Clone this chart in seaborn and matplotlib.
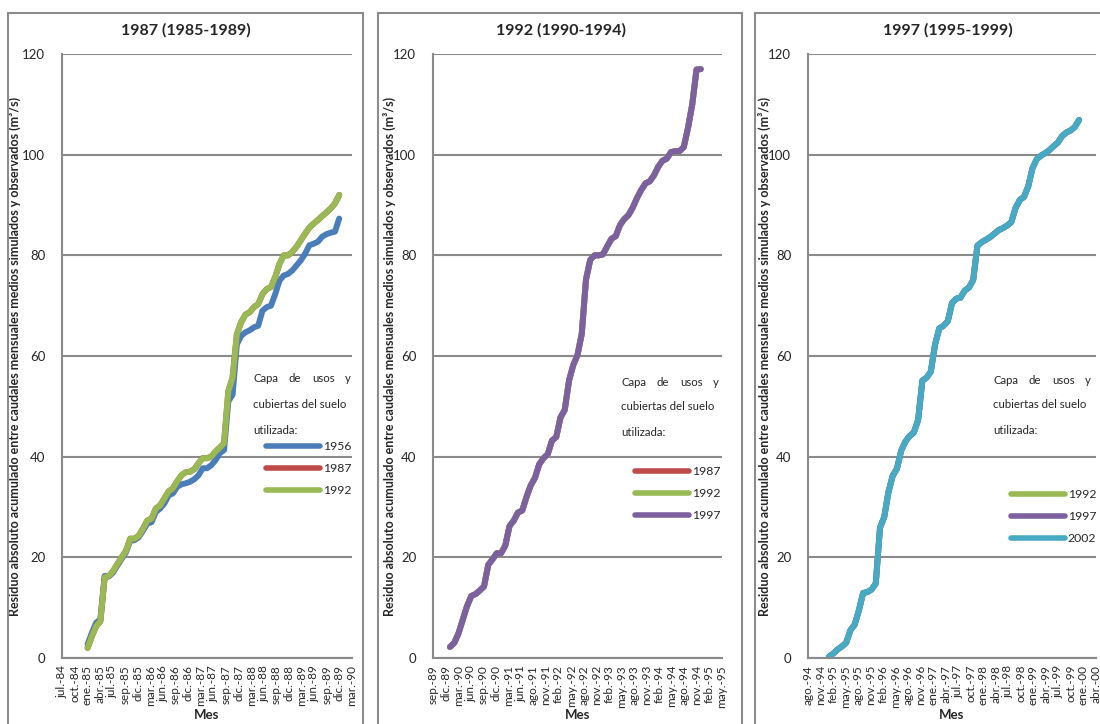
import numpy as np
import pandas as pd
import matplotlib
matplotlib.use("Agg")
import matplotlib.pyplot as plt
import seaborn as sns
from matplotlib.lines import Line2D
from matplotlib.patches import Rectangle

# ---------------- data ----------------
# Panel 1: 1987 (1985-1989), monthly ene-85 .. dic-89
p1_1956 = [2.7, 5.0, 7.0, 7.7, 16.3, 16.2, 17.0, 18.4, 19.7, 21.0, 23.3, 23.4, 24.0, 25.3, 26.7,
           27.0, 29.0, 29.7, 30.7, 32.3, 32.7, 34.0, 34.5, 34.7, 35.0, 35.5, 36.3, 37.7, 37.7, 38.3,
           39.3, 40.7, 41.3, 51.0, 52.3, 62.3, 64.0, 64.7, 65.1, 65.7, 66.0, 69.0, 69.7, 70.0, 72.3,
           75.0, 76.0, 76.3, 77.0, 78.0, 79.0, 80.3, 82.0, 82.3, 82.7, 83.7, 84.2, 84.5, 84.7, 87.3]
p1_1992 = [2.0, 4.3, 6.3, 7.3, 16.0, 16.3, 17.3, 18.7, 20.0, 21.3, 23.7, 23.7, 24.3, 25.7, 27.3,
           27.7, 29.7, 30.3, 31.7, 33.1, 33.7, 35.1, 36.3, 36.9, 37.0, 37.5, 38.7, 39.7, 39.7, 40.0,
           41.0, 41.8, 42.7, 53.0, 55.7, 64.3, 66.7, 68.2, 68.7, 69.7, 70.3, 72.3, 73.3, 73.7, 75.7,
           78.3, 80.0, 80.0, 80.7, 81.7, 83.0, 84.3, 85.5, 86.3, 87.0, 87.8, 88.5, 89.3, 90.3, 92.0]
p1_1987 = list(p1_1992)

# Panel 2: 1992 (1990-1994), monthly ene-90 .. dic-94
p2_1997 = [2.2, 3.0, 4.9, 7.6, 10.3, 12.3, 12.7, 13.4, 14.2, 18.5, 19.6, 20.8, 20.8, 22.3, 26.2,
           27.3, 28.9, 29.3, 32.0, 34.3, 35.8, 38.5, 39.7, 40.5, 43.2, 43.9, 47.8, 49.3, 55.1, 58.2,
           60.2, 64.4, 75.2, 79.1, 80.0, 80.0, 80.2, 81.8, 83.3, 83.8, 86.0, 87.2, 88.0, 89.5, 91.4,
           93.0, 94.3, 94.7, 95.9, 97.6, 98.8, 99.2, 100.5, 100.7, 100.7, 101.5, 105.3, 110.0, 116.9, 117.0]
p2_1987 = list(p2_1997)
p2_1992 = list(p2_1997)

# Panel 3: 1997 (1995-1999), monthly ene-95 .. dic-99
p3_2002 = [0.3, 0.9, 1.7, 2.3, 3.0, 5.5, 6.6, 9.4, 12.9, 13.1, 13.6, 14.8, 25.9, 28.0, 33.0,
           36.2, 37.6, 41.2, 43.0, 44.1, 44.8, 47.3, 55.1, 55.7, 56.9, 62.3, 65.5, 66.0, 66.9, 70.5,
           71.4, 71.6, 73.0, 73.6, 75.1, 81.9, 82.6, 83.1, 83.6, 84.3, 85.0, 85.4, 85.9, 86.6, 89.4,
           91.0, 91.6, 93.7, 97.3, 99.1, 99.8, 100.3, 100.9, 101.7, 102.4, 103.7, 104.4, 104.8, 105.5, 106.9]
p3_1992 = list(p3_2002)
p3_1997 = list(p3_2002)

ticks1 = ["jul.-84", "oct.-84", "ene.-85", "abr.-85", "jul.-85", "sep.-85", "dic.-85", "mar.-86",
          "jun.-86", "sep.-86", "dic.-86", "mar.-87", "jun.-87", "sep.-87", "dic.-87", "mar.-88",
          "jun.-88", "sep.-88", "dic.-88", "mar.-89", "jun.-89", "sep.-89", "dic.-89", "mar.-90"]
ticks2 = ["sep.-89", "dic.-89", "mar.-90", "jun.-90", "sep.-90", "dic.-90", "mar.-91", "jun.-91",
          "ago.-91", "nov.-91", "feb.-92", "may.-92", "ago.-92", "nov.-92", "feb.-93", "may.-93",
          "ago.-93", "nov.-93", "feb.-94", "may.-94", "ago.-94", "nov.-94", "feb.-95", "may.-95"]
ticks3 = ["ago.-94", "nov.-94", "feb.-95", "may.-95", "ago.-95", "nov.-95", "feb.-96", "may.-96",
          "ago.-96", "nov.-96", "ene.-97", "abr.-97", "jul.-97", "oct.-97", "ene.-98", "abr.-98",
          "jul.-98", "oct.-98", "ene.-99", "abr.-99", "jul.-99", "oct.-99", "ene.-00", "abr.-00"]

titles = ["1987 (1985-1989)", "1992 (1990-1994)", "1997 (1995-1999)"]
ylabel = "Residuo absoluto acumulado entre caudales mensuales medios simulados y observados (m³/s)"
xlabel = "Mes"
legend_title = ["Capa de usos y", "cubiertas del suelo", "utilizada:"]

colors = {"1956": "#4A7EBB", "1987": "#BE4B48", "1992": "#98B954",
          "1997": "#7D60A0", "2002": "#46AAC5"}

# ---------------- layout ----------------
sns.set_style("white")
plt.rcParams['font.family'] = ['Lato', 'DejaVu Sans']

W, H = 1100, 724
fig = plt.figure(figsize=(11, 7.24), dpi=100)
renderer = fig.canvas.get_renderer()


def fx(px):
    return px / W


def fy(py):
    return 1 - py / H


GRID = "#8A8A8A"
LEG_FS = 8.2

panels = [
    dict(series={"1956": p1_1956, "1987": p1_1987, "1992": p1_1992}, ticks=ticks1,
         xlim=(-6, 62), ax=(62, 352), border=(8, 363), title_x=186, ylab_x=21,
         leg_text_x=253, leg_text_w=98, leg_text_y=(379, 405, 430),
         leg_x=266, leg_y=441),
    dict(series={"1987": p2_1987, "1992": p2_1992, "1997": p2_1997}, ticks=ticks2,
         xlim=(-4, 64), ax=(433, 722), border=(378, 742), title_x=561, ylab_x=396,
         leg_text_x=621, leg_text_w=98, leg_text_y=(382, 407, 432),
         leg_x=635, leg_y=466),
    dict(series={"1992": p3_1992, "1997": p3_1997, "2002": p3_2002}, ticks=ticks3,
         xlim=(-5, 63), ax=(808, 1096), border=(755, 1140), title_x=948, ylab_x=771,
         leg_text_x=993, leg_text_w=98, leg_text_y=(381, 405, 430),
         leg_x=1011, leg_y=489),
]

AX_TOP, AX_BOT = 54, 658

for idx, p in enumerate(panels):
    # panel frame
    b0, b1 = p["border"]
    fig.patches.append(Rectangle((fx(b0), fy(740)), fx(b1 - b0), (740 - 13) / H,
                                 transform=fig.transFigure, fill=False,
                                 edgecolor="#8C8C8C", linewidth=1.5, zorder=0))
    a0, a1 = p["ax"]
    ax = fig.add_axes([fx(a0), fy(AX_BOT), fx(a1 - a0), (AX_BOT - AX_TOP) / H])

    rows = []
    for name, vals in p["series"].items():
        for i, v in enumerate(vals):
            rows.append({"mes": i, "valor": v, "capa": name})
    df = pd.DataFrame(rows)
    order = list(p["series"].keys())
    sns.lineplot(data=df, x="mes", y="valor", hue="capa", hue_order=order,
                 palette=[colors[k] for k in order], linewidth=4.3, legend=False,
                 ax=ax, solid_capstyle="round", solid_joinstyle="round")

    ax.set_xlim(*p["xlim"])
    ax.set_ylim(0, 120)
    ax.set_yticks([0, 20, 40, 60, 80, 100, 120])
    ax.set_yticklabels(["0", "20", "40", "60", "80", "100", "120"], fontsize=9.5)
    ax.set_xticks(np.linspace(p["xlim"][0], p["xlim"][1], len(p["ticks"])))
    ax.set_xticklabels(p["ticks"], rotation=90, fontsize=8.5)
    ax.tick_params(axis="both", length=0)
    ax.tick_params(axis="y", pad=12)
    ax.tick_params(axis="x", pad=5)
    ax.yaxis.grid(True, color=GRID, linewidth=1.5)
    ax.xaxis.grid(False)
    ax.set_axisbelow(True)
    for s in ["top", "right"]:
        ax.spines[s].set_visible(False)
    for s in ["left", "bottom"]:
        ax.spines[s].set_color(GRID)
        ax.spines[s].set_linewidth(1.5)

    ax.set_xlabel(xlabel, fontsize=9.5, fontweight="bold")
    ax.xaxis.set_label_coords(0.5, -(709 - AX_BOT) / (AX_BOT - AX_TOP))
    ax.set_ylabel(ylabel, fontsize=9.0, fontweight="bold")
    ax.yaxis.set_label_coords(-(a0 - p["ylab_x"]) / (a1 - a0), 0.5)

    fig.text(fx(p["title_x"]), fy(30), titles[idx],
             ha="center", va="center", fontsize=11.5, fontweight="bold")

    # legend title text, first line justified across the block width
    tx = p["leg_text_x"]
    tw = p["leg_text_w"]
    words = legend_title[0].split()
    word_w = []
    for w_ in words:
        t = fig.text(0, 0, w_, fontsize=LEG_FS)
        word_w.append(t.get_window_extent(renderer).width)
        t.remove()
    gap = (tw - sum(word_w)) / (len(words) - 1)
    xpos = tx
    for w_, ww in zip(words, word_w):
        fig.text(fx(xpos), fy(p["leg_text_y"][0]), w_, ha="left", va="center", fontsize=LEG_FS)
        xpos += ww + gap
    fig.text(fx(tx), fy(p["leg_text_y"][1]), legend_title[1], ha="left", va="center", fontsize=LEG_FS)
    fig.text(fx(tx), fy(p["leg_text_y"][2]), legend_title[2], ha="left", va="center", fontsize=LEG_FS)

    handles = [Line2D([0], [0], color=colors[k], linewidth=4, solid_capstyle="round") for k in order]
    ax.legend(handles, order, loc="upper left", bbox_to_anchor=(fx(p["leg_x"]), fy(p["leg_y"])),
              bbox_transform=fig.transFigure, frameon=False, fontsize=8.8,
              handlelength=4.4, handletextpad=0.25, labelspacing=0.9,
              borderpad=0, borderaxespad=0)

fig.savefig("out.png", dpi=100)
